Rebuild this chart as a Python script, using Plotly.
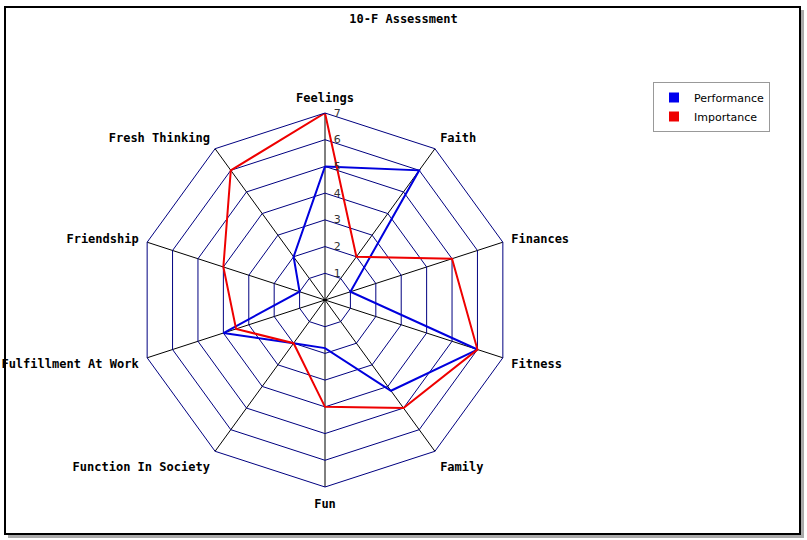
import plotly.graph_objects as go

categories = ["Feelings", "Faith", "Finances", "Fitness", "Family", "Fun",
              "Function In Society", "Fulfillment At Work", "Friendship", "Fresh Thinking"]
performance = [5, 6, 1, 6, 4.2, 1.8, 2, 4, 1, 2]
importance = [7, 2, 5, 6, 5, 4, 2, 3.5, 4, 6]
radial_ticks = [1, 2, 3, 4, 5, 6, 7]
title_text = "10-F Assessment"

W, H = 807, 540
cx, cy, R = 325, 300, 187

fig = go.Figure()
for name, vals, col in [("Performance", performance, "#0000dd"), ("Importance", importance, "#ee0000")]:
    fig.add_trace(go.Scatterpolar(
        r=vals + [vals[0]], theta=categories + [categories[0]],
        mode="lines", line=dict(color=col, width=2), name=name,
        showlegend=False))
for name, col in [("Performance", "#0000ee"), ("Importance", "#ee0000")]:
    fig.add_trace(go.Scatterpolar(
        r=[None], theta=[categories[0]], mode="markers",
        marker=dict(symbol="square", size=10, color=col), name=name,
        showlegend=True))

fig.update_layout(
    width=W, height=H,
    margin=dict(l=0, r=0, t=0, b=0),
    paper_bgcolor="white",
    title=dict(text="<b>" + title_text + "</b>", x=0.5, xanchor="center", y=1 - 19 / H, yanchor="middle",
               font=dict(family="DejaVu Sans Mono", size=12, color="black")),
    polar=dict(
        domain=dict(x=[(cx - R) / W, (cx + R) / W], y=[(H - cy - R) / H, (H - cy + R) / H]),
        bgcolor="rgba(0,0,0,0)",
        gridshape="linear",
        angularaxis=dict(direction="clockwise", rotation=90,
                         showgrid=True, gridcolor="black", gridwidth=1,
                         showline=True, linecolor="#000080", linewidth=1,
                         ticks="outside", ticklen=6, tickcolor="rgba(0,0,0,0)",
                         tickfont=dict(family="DejaVu Sans Mono", size=12, color="black", weight="bold")),
        radialaxis=dict(range=[0, 7], tickvals=radial_ticks, ticktext=[str(t) for t in radial_ticks],
                        angle=90, tickangle=90, showline=False, showgrid=True,
                        gridcolor="#000080", gridwidth=1,
                        ticks="outside", ticklen=6, tickcolor="rgba(0,0,0,0)",
                        tickfont=dict(family="DejaVu Sans", size=11, color="#333333")),
    ),
    legend=dict(x=653 / W, y=1 - 82 / H, xanchor="left", yanchor="top",
                bgcolor="white", bordercolor="#999999", borderwidth=1,
                font=dict(family="DejaVu Sans", size=11, color="black"),
                itemwidth=30, tracegroupgap=0),
    shapes=[
        dict(type="rect", xref="paper", yref="paper", layer="below",
             x0=8 / W, x1=804 / W, y0=(H - 538) / H, y1=(H - 10) / H,
             line=dict(width=0), fillcolor="#aaaaaa"),
        dict(type="rect", xref="paper", yref="paper", layer="below",
             x0=5 / W, x1=800 / W, y0=(H - 534) / H, y1=(H - 7) / H,
             line=dict(color="black", width=2), fillcolor="white"),
    ],
)

fig.write_html("out.html")
